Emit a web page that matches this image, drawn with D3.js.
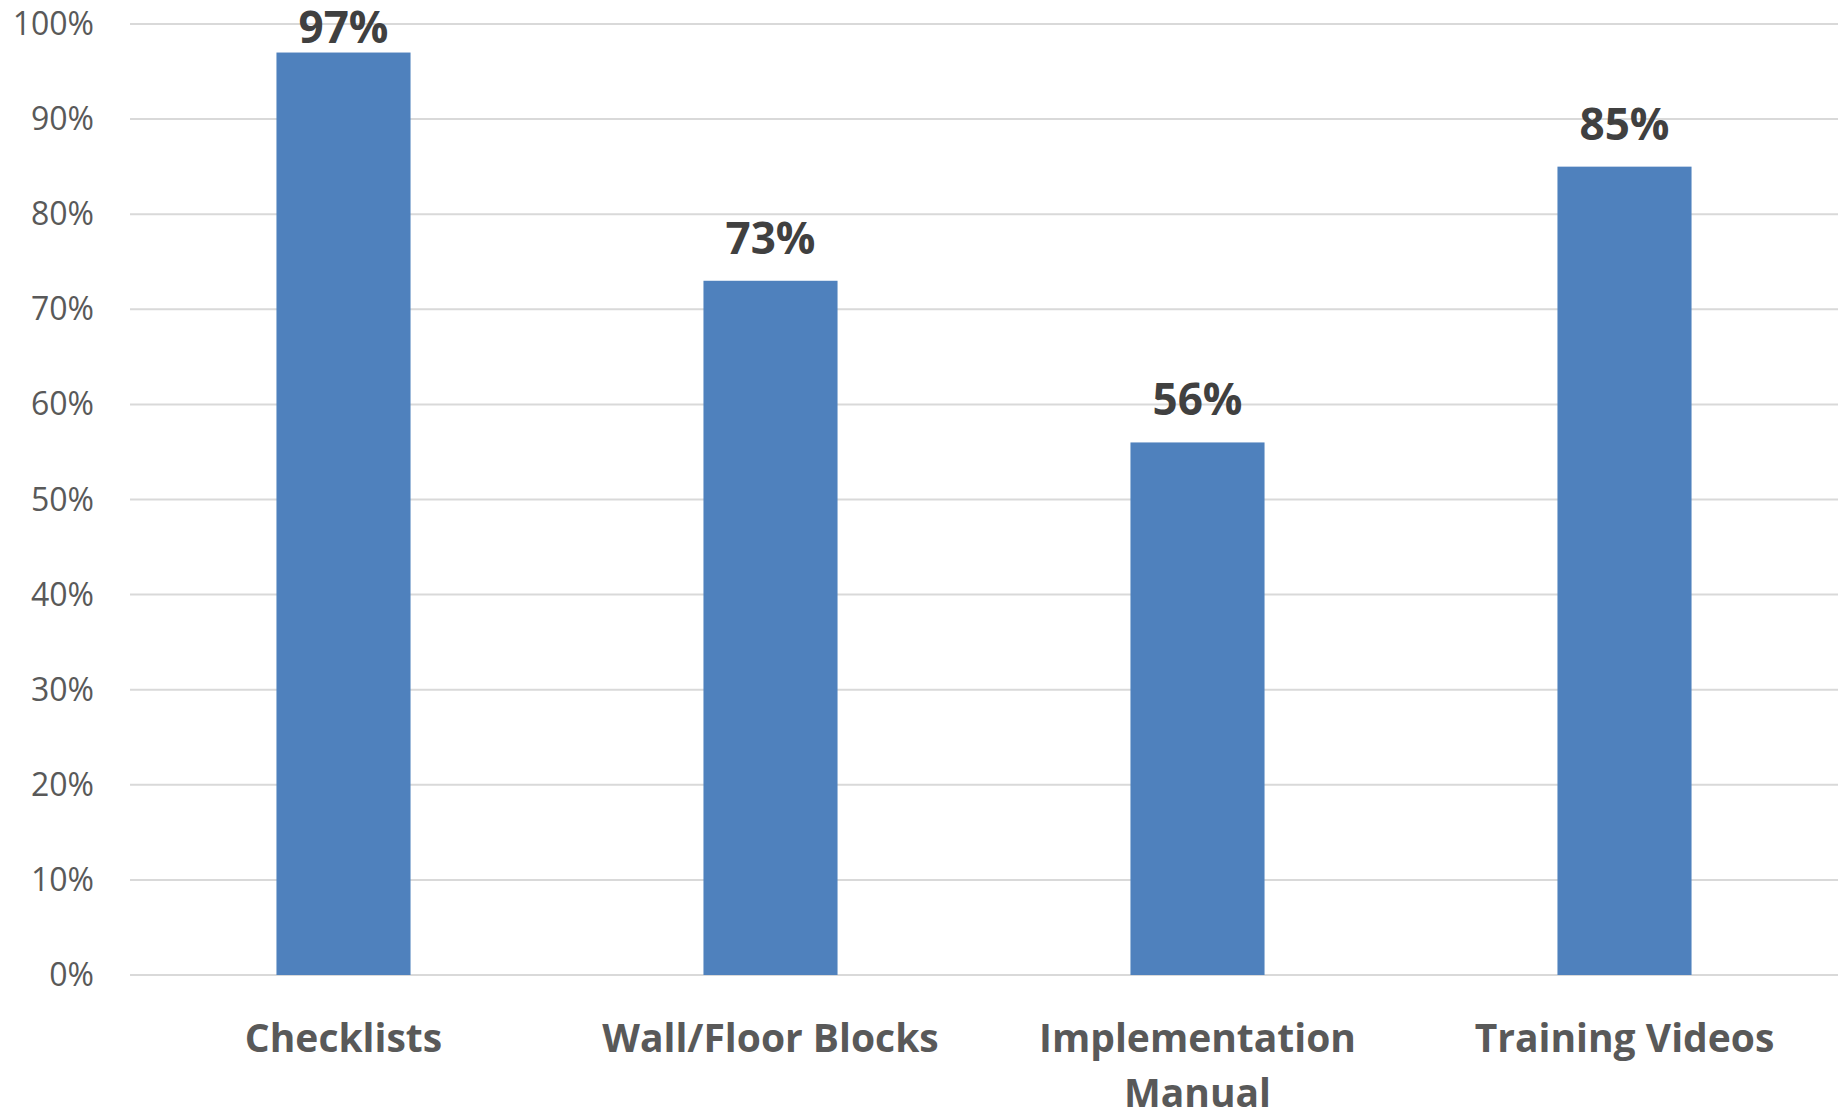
<!DOCTYPE html>
<html><head><meta charset="utf-8">
<script src="https://cdn.jsdelivr.net/npm/d3@7"></script>
<style>body{margin:0;background:#fff}svg{display:block}</style>
</head><body>
<script>
const categories = [["Checklists"], ["Wall/Floor Blocks"], ["Implementation", "Manual"], ["Training Videos"]];
const values = [97, 73, 56, 85];
const yTicks = [0, 10, 20, 30, 40, 50, 60, 70, 80, 90, 100];

const W = 1841, H = 1114;
const m = {left: 130, right: 3, top: 24, bottom: 139};
const svg = d3.select("body").append("svg").attr("width", W).attr("height", H);
const x = d3.scaleBand().domain(d3.range(categories.length)).range([m.left, W - m.right]).paddingInner(0.686).paddingOuter(0.343);
const y = d3.scaleLinear().domain([0, 100]).range([H - m.bottom, m.top]);
const font = "'Open Sans', sans-serif";

svg.append("g").selectAll("line").data(yTicks).join("line")
  .attr("x1", m.left).attr("x2", W - m.right)
  .attr("y1", d => y(d)).attr("y2", d => y(d))
  .attr("stroke", "#d9d9d9").attr("stroke-width", 2);

svg.append("g").selectAll("text").data(yTicks).join("text")
  .attr("x", 94).attr("y", d => y(d) + 11).attr("text-anchor", "end")
  .attr("font-family", font).attr("font-size", 32).attr("fill", "#595959")
  .text(d => d + "%");

svg.append("g").selectAll("rect").data(values).join("rect")
  .attr("x", (d, i) => x(i)).attr("width", x.bandwidth())
  .attr("y", d => y(d)).attr("height", d => y(0) - y(d))
  .attr("fill", "#4F81BD");

svg.append("g").selectAll("text").data(values).join("text")
  .attr("x", (d, i) => x(i) + x.bandwidth() / 2)
  .attr("y", d => Math.max(y(d) - 27, 43))
  .attr("text-anchor", "middle").attr("font-family", font).attr("font-weight", 700)
  .attr("font-size", 44).attr("fill", "#404040")
  .text(d => d + "%");

const cat = svg.append("g").selectAll("text").data(categories).join("text")
  .attr("x", (d, i) => x(i) + x.bandwidth() / 2).attr("y", 1052)
  .attr("text-anchor", "middle").attr("font-family", font).attr("font-weight", 700)
  .attr("font-size", 39).attr("fill", "#595959");
cat.selectAll("tspan").data(d => d).join("tspan")
  .attr("x", function() { return this.parentNode.getAttribute("x"); })
  .attr("dy", (d, i) => i === 0 ? 0 : 55).text(d => d);
</script>
</body></html>
